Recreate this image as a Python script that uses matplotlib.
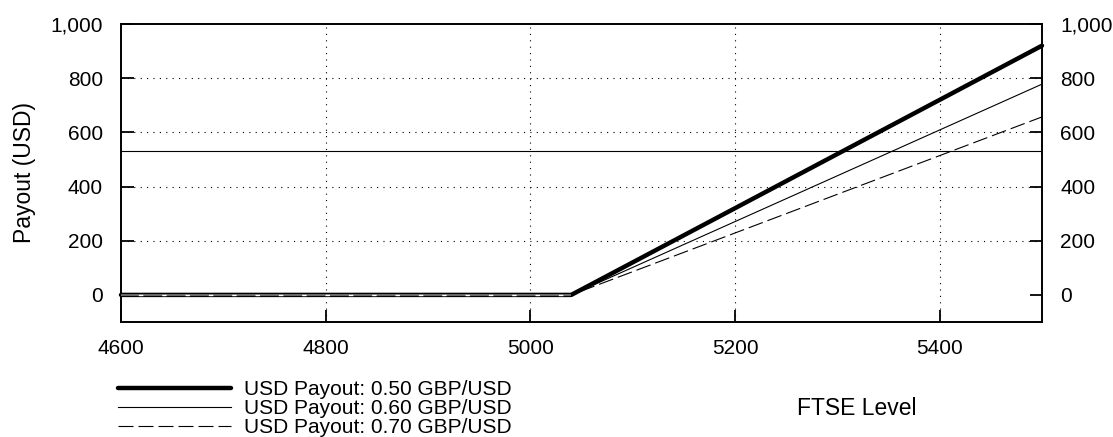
import matplotlib
matplotlib.use("Agg")
import matplotlib.pyplot as plt
from matplotlib.ticker import FuncFormatter

plt.rcParams['font.family'] = ['Liberation Sans', 'DejaVu Sans']
plt.rcParams['lines.scale_dashes'] = False

# Data
ftse = [4600, 5040, 5500]
payout_050 = [0, 0, 920]
payout_060 = [0, 0, 778]
payout_070 = [0, 0, 657]
labels = ["USD Payout: 0.50 GBP/USD", "USD Payout: 0.60 GBP/USD", "USD Payout: 0.70 GBP/USD"]
ref_level = 530
xticks = [4600, 4800, 5000, 5200, 5400]
yticks = [0, 200, 400, 600, 800, 1000]

fig = plt.figure(figsize=(11.13, 4.37), dpi=100)
ax = fig.add_axes([121/1113, 1-322/437, 921/1113, 298/437])

ax.set_xlim(4600, 5500)
ax.set_ylim(-100, 1000)

# grid
for x in xticks[1:]:
    ax.axvline(x, color='black', lw=0.8, dashes=(0.8, 3.8), zorder=1)
for y in yticks[1:-1]:
    ax.axhline(y, color='black', lw=0.8, dashes=(0.8, 3.8), zorder=1)

ax.axhline(ref_level, color='black', lw=0.8, zorder=2)

l1, = ax.plot(ftse, payout_050, color='black', lw=3.2, solid_capstyle='round', clip_on=False, zorder=3, label=labels[0])
l2, = ax.plot(ftse, payout_060, color='black', lw=0.8, zorder=4, label=labels[1])
l3, = ax.plot(ftse, payout_070, color='black', lw=0.8, dashes=(10.8, 3.6), zorder=5, label=labels[2])

# flat zero segment rendering (gray core with white dashes)
ax.plot(ftse[:2], payout_050[:2], color='#6a6a6a', lw=1.4, solid_capstyle='butt', zorder=6)
ax.plot(ftse[:2], payout_050[:2], color='white', lw=1.0, zorder=7,
        linestyle=(4.3, (3.2, 13.6)))

ax.set_xticks(xticks)
ax.set_yticks(yticks)
ax.yaxis.set_major_formatter(FuncFormatter(lambda v, p: f"{v:,.0f}"))
ax.tick_params(axis='both', direction='in', length=9, width=1.3, labelsize=15, pad=13)
ax.tick_params(axis='y', left=True, right=True, labelleft=True, labelright=True)
ax.tick_params(axis='x', bottom=True, top=False, pad=12)

for s in ax.spines.values():
    s.set_linewidth(1.4)

ax.set_ylabel("Payout (USD)", fontsize=16.5)
ax.yaxis.set_label_coords(-0.1053, 0.5)
ax.yaxis.label.set_va('center')
ax.set_xlabel("FTSE Level", fontsize=16.5)
ax.xaxis.set_label_coords(0.799, -0.289)
ax.xaxis.label.set_va('center')

leg = fig.legend(handles=[l1, l2, l3], loc='upper left', bbox_to_anchor=(118/1113, 1-380/437),
                 frameon=False, fontsize=15, handlelength=5.4, handletextpad=0.65,
                 labelspacing=0.0, borderpad=0, borderaxespad=0)

fig.savefig("out.png", dpi=100)
